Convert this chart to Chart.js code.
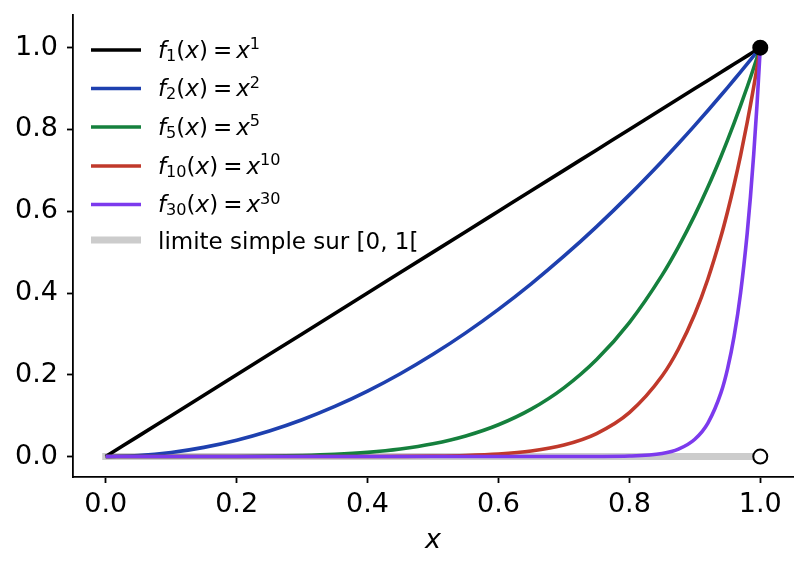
<!DOCTYPE html>
<html>
<head>
<meta charset="utf-8">
<script src="https://cdn.jsdelivr.net/npm/chart.js@4"></script>
<style>
  html, body { margin: 0; padding: 0; background: #fff; }
  canvas { display: block; }
</style>
</head>
<body>
<canvas id="powChart" width="808" height="569"></canvas>
<script>
// sample positions along x and the value of each curve
const xs = [0, 0.05, 0.1, 0.15, 0.2, 0.25, 0.3, 0.35, 0.4, 0.45, 0.5, 0.55, 0.6, 0.65, 0.7, 0.75,
  0.8, 0.85, 0.875, 0.9, 0.92, 0.94, 0.95, 0.96, 0.97, 0.98, 0.985, 0.99, 0.995, 1];

const f1 = [0, 0.05, 0.1, 0.15, 0.2, 0.25, 0.3, 0.35, 0.4, 0.45, 0.5, 0.55, 0.6, 0.65, 0.7, 0.75,
  0.8, 0.85, 0.875, 0.9, 0.92, 0.94, 0.95, 0.96, 0.97, 0.98, 0.985, 0.99, 0.995, 1];
const f2 = [0, 0.0025, 0.01, 0.0225, 0.04, 0.0625, 0.09, 0.1225, 0.16, 0.2025, 0.25, 0.3025, 0.36,
  0.4225, 0.49, 0.5625, 0.64, 0.7225, 0.7656, 0.81, 0.8464, 0.8836, 0.9025, 0.9216, 0.9409, 0.9604,
  0.9702, 0.9801, 0.99, 1];
const f5 = [0, 0, 0.00001, 0.00008, 0.00032, 0.00098, 0.00243, 0.00525, 0.01024, 0.01845, 0.03125,
  0.05033, 0.07776, 0.11603, 0.16807, 0.2373, 0.32768, 0.44371, 0.51291, 0.59049, 0.65908, 0.7339,
  0.77378, 0.81537, 0.85873, 0.90392, 0.92722, 0.95099, 0.97525, 1];
const f10 = [0, 0, 0, 0, 0, 0.000001, 0.000006, 0.000028, 0.000105, 0.00034, 0.00098, 0.00253,
  0.00605, 0.01346, 0.02825, 0.05631, 0.10737, 0.19687, 0.26308, 0.34868, 0.43439, 0.53861,
  0.59874, 0.66483, 0.73742, 0.81707, 0.85974, 0.90438, 0.95111, 1];
const f30 = [0, 0, 0, 0, 0, 0, 0, 0, 0, 0, 0, 0, 0, 0, 0.00002, 0.00018, 0.00124, 0.00763, 0.01821,
  0.04239, 0.08197, 0.15625, 0.21464, 0.29385, 0.401, 0.54548, 0.63548, 0.7397, 0.86038, 1];

// pointwise limit: 0 on [0, 1[, 1 at x = 1
const limitX = [0, 1];
const limitY = [0, 0];
const closedDotX = [1];
const closedDotY = [1];
const openDotX = [1];
const openDotY = [0];

const xTicks = [0, 0.2, 0.4, 0.6, 0.8, 1.0];
const yTicks = [0, 0.2, 0.4, 0.6, 0.8, 1.0];

const curveNames = ["1", "2", "5", "10", "30"];
const curveValues = [f1, f2, f5, f10, f30];
const curveColors = ["#000000", "#1e40af", "#15803d", "#c0392b", "#7c3aed"];
const limitLabel = "limite simple sur [0, 1[";

const pts = (xArr, yArr) => xArr.map((x, i) => ({ x: x, y: yArr[i] }));

const FONT = '"DejaVu Sans", sans-serif';

// legend drawn by hand so the labels can carry subscripts and superscripts
function drawMath(ctx, parts, x, y, size) {
  for (const [txt, kind] of parts) {
    if (kind === "gap") { x += txt; continue; }
    let s = size, dy = 0, style = "";
    if (kind === "i") style = "italic ";
    if (kind === "sub") { s = size * 0.7; dy = size * 0.14; }
    if (kind === "sup") { s = size * 0.7; dy = -size * 0.36; }
    ctx.font = style + s + "px " + FONT;
    ctx.fillText(txt, x, y + dy);
    x += ctx.measureText(txt).width;
  }
}

const mathLegend = {
  id: "mathLegend",
  afterDraw(chart) {
    const ctx = chart.ctx;
    const rows = [50, 88.5, 127, 166, 204.5, 240];
    const size = 23;
    ctx.save();
    ctx.fillStyle = "#000";
    ctx.textBaseline = "alphabetic";
    ctx.textAlign = "left";
    curveNames.forEach((n, i) => {
      const y = rows[i];
      ctx.strokeStyle = curveColors[i];
      ctx.lineWidth = 3.6;
      ctx.beginPath();
      ctx.moveTo(91, y);
      ctx.lineTo(141, y);
      ctx.stroke();
      drawMath(ctx, [
        ["f", "i"], [n, "sub"], ["(", "r"], ["x", "i"], [")", "r"],
        [5, "gap"], ["=", "r"], [4, "gap"], ["x", "i"], [n, "sup"]
      ], 158, y + 7.5, size);
    });
    const y = rows[5];
    ctx.strokeStyle = "#cccccc";
    ctx.lineWidth = 7;
    ctx.beginPath();
    ctx.moveTo(91, y);
    ctx.lineTo(141, y);
    ctx.stroke();
    ctx.font = size + "px " + FONT;
    ctx.fillText(limitLabel, 158, y + 9);
    ctx.restore();
  },
};

const datasets = curveNames.map((n, i) => ({
  label: "f" + n,
  data: pts(xs, curveValues[i]),
  borderColor: curveColors[i],
  borderWidth: 3.6,
  pointRadius: 0,
  cubicInterpolationMode: "monotone",
  order: 5 - i,
}));

datasets.push({
  label: limitLabel,
  data: pts(limitX, limitY),
  borderColor: "#cccccc",
  borderWidth: 7,
  borderCapStyle: "square",
  pointRadius: 0,
  order: 10,
});
datasets.push({
  label: "closed",
  data: pts(closedDotX, closedDotY),
  showLine: false,
  pointRadius: 7,
  pointBorderWidth: 2,
  pointBackgroundColor: "#000",
  pointBorderColor: "#000",
  order: 0,
});
datasets.push({
  label: "open",
  data: pts(openDotX, openDotY),
  showLine: false,
  pointRadius: 7,
  pointBorderWidth: 2,
  pointBackgroundColor: "#fff",
  pointBorderColor: "#000",
  order: 0,
});

const axisCommon = {
  type: "linear",
  border: { display: true, color: "#000", width: 1.8 },
  grid: { drawOnChartArea: false, drawTicks: true, tickLength: 6, tickWidth: 1.8, tickColor: "#000" },
};

new Chart(document.getElementById("powChart"), {
  type: "line",
  data: { datasets },
  plugins: [mathLegend],
  options: {
    responsive: false,
    animation: false,
    layout: { padding: { left: 0, right: 15, top: 15, bottom: 0 } },
    plugins: { legend: { display: false }, tooltip: { enabled: false } },
    scales: {
      x: {
        ...axisCommon,
        position: "bottom",
        min: -0.05,
        max: 1.05,
        afterBuildTicks: (s) => { s.ticks = xTicks.map((v) => ({ value: v })); },
        afterFit: (s) => { s.height = 92; s.paddingLeft = 0; s.paddingRight = 0; },
        ticks: {
          autoSkip: false,
          maxRotation: 0,
          padding: 6,
          color: "#000",
          font: { family: FONT, size: 27 },
          callback: (v) => v.toFixed(1),
        },
        title: {
          display: true,
          text: "x",
          color: "#000",
          font: { family: FONT, size: 27, style: "italic" },
          padding: { top: 0, bottom: 12 },
        },
      },
      y: {
        ...axisCommon,
        min: -0.05,
        max: 1.08,
        afterBuildTicks: (s) => { s.ticks = yTicks.map((v) => ({ value: v })); },
        afterFit: (s) => { s.width = 73; s.paddingTop = 0; s.paddingBottom = 0; },
        ticks: {
          autoSkip: false,
          padding: 9,
          color: "#000",
          font: { family: FONT, size: 27 },
          callback: (v) => v.toFixed(1),
        },
      },
    },
  },
});
</script>
</body>
</html>
